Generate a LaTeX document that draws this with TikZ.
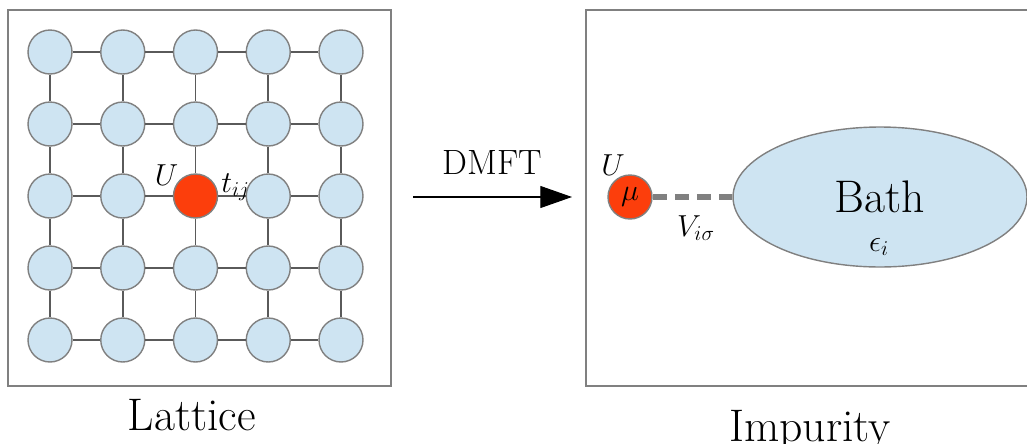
\documentclass[tikz,border=0pt]{standalone}
\usetikzlibrary{positioning, shapes.geometric, calc, arrows.meta}

\definecolor{siteblue}{RGB}{206,228,242}
\definecolor{impred}{RGB}{252,62,12}
\definecolor{edgegray}{RGB}{128,128,128}
\definecolor{bondgray}{RGB}{90,90,90}

\begin{document}
\begin{tikzpicture}[
  x=0.02cm, y=-0.02cm,
  % Sites (Circles)
  site/.style={circle, draw=edgegray, fill=siteblue, line width=0.8pt, minimum size=0.88cm, inner sep=0pt},
  bath/.style={ellipse, draw=edgegray, fill=siteblue, line width=0.8pt, minimum width=5.88cm, minimum height=2.8cm, font=\fontsize{26}{30}\selectfont},
  % Lines
  frame/.style={draw=edgegray, line width=0.8pt},
  bond/.style={draw=bondgray, line width=0.9pt},
  hyb/.style={draw=edgegray, line width=3.4pt, dash pattern=on 8pt off 4.6pt},
  lbl/.style={inner sep=0pt, font=\fontsize{17}{19}\selectfont},
  title/.style={anchor=base, inner sep=0pt, font=\fontsize{26}{30}\selectfont}
  ]
  \useasboundingbox (0,0) rectangle (1027,443);

  % --- Lattice ---
  \draw[frame] (8,10) rectangle (391,386);
  \foreach \i in {1,...,5}
    \foreach \j in {1,...,5} {
      \ifnum\i\j=33 \def\sitecol{impred}\else\def\sitecol{siteblue}\fi
      \node[site, fill=\sitecol] (s\i\j) at ({50+72.75*(\i-1)}, {52+72*(\j-1)}) {};
    }
  % nearest-neighbour bonds
  \foreach \i in {1,...,5}
    \foreach \j [count=\k from 2] in {1,...,4} {
      \draw[bond] (s\i\j) -- (s\i\k);
      \draw[bond] (s\j\i) -- (s\k\i);
    }
  \node[lbl] (Ulat) at ($(s33)+(-29,-21)$) {$U$};
  \node[lbl] (tij) at ($(s33)+(40,-9)$) {$t_{ij}$};
  \node[title] (Tlat) at (192,430) {Lattice};

  % --- DMFT mapping ---
  \coordinate (arrS) at (413,197);
  \coordinate (arrE) at (572,197);
  \draw[line width=0.6pt, -{Triangle[length=18pt, width=12.5pt]}] (arrS) -- (arrE);
  \node[font=\fontsize{20}{24}\selectfont, inner sep=0pt] (dmft) at (492,162) {DMFT};

  % --- Impurity ---
  \draw[frame] (586,10) rectangle (1040,386);
  \node[site, fill=impred, font=\fontsize{17}{19}\selectfont] (imp) at (630,197) {$\mu$};
  \node[bath] (bath) at (880,197) {Bath};
  \draw[hyb] (imp) -- (bath);
  \node[lbl] (Uimp) at (613,165) {$U$};
  \node[lbl] (Vis) at (696,228) {$V_{i\sigma}$};
  \node[lbl] (eps) at (879,247) {$\epsilon_i$};
  \node[title] (Timp) at (810,441) {Impurity};

\end{tikzpicture}
\end{document}
